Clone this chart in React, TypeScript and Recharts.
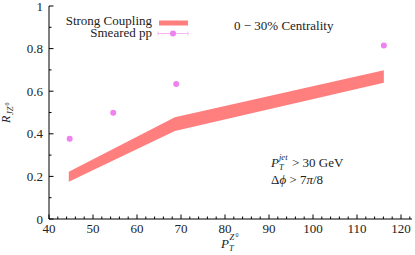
import React from 'react';
import { ComposedChart, Area, Scatter, XAxis, YAxis } from 'recharts';

// Strong Coupling band
const bandPt = [44.5, 68.6, 116.1];
const bandLow = [0.175, 0.413, 0.64];
const bandHigh = [0.222, 0.478, 0.698];

// Smeared pp points
const ppPt = [44.7, 54.6, 68.9, 116.1];
const ppVal = [0.377, 0.499, 0.634, 0.814];

// Ticks
const xTicks = [40, 42, 44, 46, 48, 50, 52, 54, 56, 58, 60, 62, 64, 66, 68, 70, 72, 74, 76, 78, 80, 82, 84, 86, 88, 90, 92, 94, 96, 98, 100, 102, 104, 106, 108, 110, 112, 114, 116, 118, 120, 122];
const xLabels = [40, 50, 60, 70, 80, 90, 100, 110, 120];
const yTicks = [0, 0.1, 0.2, 0.3, 0.4, 0.5, 0.6, 0.7, 0.8, 0.9, 1];
const yLabels = ['0', '0.2', '0.4', '0.6', '0.8', '1'];

const bandData = bandPt.map((x, i) => ({ x, range: [bandLow[i], bandHigh[i]] }));
const ppData = ppPt.map((x, i) => ({ x, y: ppVal[i] }));

const FONT = "'Liberation Serif', 'DejaVu Serif', 'Times New Roman', serif";
const TXT = '#222';
const BAND = '#ff7f7f';
const VIOLET = '#ee82ee';
const F = { fontFamily: FONT };

const isMajorX = (v: number) => xLabels.includes(v);
const yLabelOf = (v: number) => yLabels.find((l) => Math.abs(parseFloat(l) - v) < 1e-6);

const BottomTick = (p: any) => {
  const v = p.payload.value;
  const major = isMajorX(v);
  return (
    <g>
      <line x1={p.x} x2={p.x} y1={p.y} y2={p.y - (major ? 4.5 : 2.5)} stroke="#000" />
      {major && (
        <text x={p.x} y={p.y + 14} textAnchor="middle" style={F} fontSize={13} fill={TXT}>
          {v}
        </text>
      )}
    </g>
  );
};

const TopTick = (p: any) => {
  const v = p.payload.value;
  const major = isMajorX(v);
  return <line x1={p.x} x2={p.x} y1={p.y} y2={p.y + (major ? 4.5 : 2.5)} stroke="#000" />;
};

const LeftTick = (p: any) => {
  const v = p.payload.value;
  const lab = yLabelOf(v);
  return (
    <g>
      <line x1={p.x} x2={p.x + (lab ? 4.5 : 2.5)} y1={p.y} y2={p.y} stroke="#000" />
      {lab && (
        <text x={p.x - 6} y={p.y + 4.5} textAnchor="end" style={F} fontSize={13} fill={TXT}>
          {lab}
        </text>
      )}
    </g>
  );
};

const RightTick = (p: any) => {
  const v = p.payload.value;
  const lab = yLabelOf(v);
  return <line x1={p.x} x2={p.x - (lab ? 4.5 : 2.5)} y1={p.y} y2={p.y} stroke="#000" />;
};

const Dot = (p: any) => <circle cx={p.cx} cy={p.cy} r={3} fill={VIOLET} />;

export default function App() {
  return (
    <div style={{ position: 'absolute', left: 0, top: 0, width: 415, height: 255, background: '#fff', fontFamily: FONT }}>
      <ComposedChart
        width={415}
        height={255}
        data={bandData}
        margin={{ top: 6, right: 3, bottom: 0, left: 0 }}
      >
        <XAxis
          xAxisId="b"
          dataKey="x"
          type="number"
          domain={[40, 122.5]}
          ticks={xTicks}
          interval={0}
          tickSize={0}
          tickMargin={0}
          tick={BottomTick}
          height={36}
          axisLine={{ stroke: '#000' }}
          allowDataOverflow
        />
        <XAxis
          xAxisId="t"
          orientation="top"
          type="number"
          domain={[40, 122.5]}
          ticks={xTicks}
          interval={0}
          tickSize={0}
          tickMargin={0}
          tick={TopTick}
          height={0}
          axisLine={{ stroke: '#000' }}
          allowDataOverflow
        />
        <YAxis
          yAxisId="l"
          type="number"
          domain={[0, 1]}
          ticks={yTicks}
          interval={0}
          tickSize={0}
          tickMargin={0}
          tick={LeftTick}
          width={49}
          axisLine={{ stroke: '#000' }}
          allowDataOverflow
        />
        <YAxis
          yAxisId="r"
          orientation="right"
          type="number"
          domain={[0, 1]}
          ticks={yTicks}
          interval={0}
          tickSize={0}
          tickMargin={0}
          tick={RightTick}
          width={0}
          axisLine={{ stroke: '#000' }}
          allowDataOverflow
        />
        <Area
          xAxisId="b"
          yAxisId="l"
          type="linear"
          dataKey="range"
          stroke="none"
          fill={BAND}
          fillOpacity={1}
          isAnimationActive={false}
          activeDot={false}
        />
        <Scatter
          xAxisId="b"
          yAxisId="l"
          data={ppData}
          dataKey="y"
          shape={Dot}
          isAnimationActive={false}
        />
      </ComposedChart>
      <svg
        width={415}
        height={255}
        style={{ position: 'absolute', left: 0, top: 0, pointerEvents: 'none', fontFamily: FONT }}
      >
        {/* legend */}
        <text x={152} y={25} textAnchor="end" style={F} fontSize={13} fill={TXT}>
          Strong Coupling
        </text>
        <rect x={159} y={20.5} width={29} height={5} fill={BAND} />
        <text x={152} y={37} textAnchor="end" style={F} fontSize={13} fill={TXT}>
          Smeared pp
        </text>
        <line x1={158} x2={188} y1={33.5} y2={33.5} stroke="#f6b6f6" strokeWidth={1} />
        <line x1={158} x2={158} y1={31.5} y2={35.5} stroke="#f6b6f6" strokeWidth={1} />
        <line x1={188} x2={188} y1={31.5} y2={35.5} stroke="#f6b6f6" strokeWidth={1} />
        <circle cx={173} cy={33.5} r={3} fill={VIOLET} />

        {/* annotations */}
        <text x={234} y={29.5} style={F} fontSize={13} fill={TXT}>
          0 − 30% Centrality
        </text>
        <text x={271} y={167} style={F} fontSize={13} fill={TXT} fontStyle="italic">
          P
        </text>
        <text x={279} y={170} style={F} fontSize={8.5} fill={TXT} fontStyle="italic">
          T
        </text>
        <text x={279} y={160} style={F} fontSize={8.5} fill={TXT} fontStyle="italic">
          jet
        </text>
        <text x={292} y={167} style={F} fontSize={13} fill={TXT}>
          {'> 30 GeV'}
        </text>
        <text x={271} y={184} style={F} fontSize={13} fill={TXT}>
          <tspan>Δ</tspan>
          <tspan fontStyle="italic">ϕ</tspan>
          <tspan>{' > 7'}</tspan>
          <tspan fontStyle="italic">π</tspan>
          <tspan>/8</tspan>
        </text>

        {/* x axis label */}
        <text x={221} y={248} style={F} fontSize={13} fill={TXT} fontStyle="italic">
          P
        </text>
        <text x={229} y={251} style={F} fontSize={8.5} fill={TXT} fontStyle="italic">
          T
        </text>
        <text x={229.5} y={240} style={F} fontSize={8.5} fill={TXT} fontStyle="italic">
          Z
        </text>
        <text x={235.5} y={236.5} style={F} fontSize={6} fill={TXT}>
          0
        </text>

        {/* y axis label */}
        <g transform="translate(10,123) rotate(-90)">
          <text x={0} y={0} style={F} fontSize={12} fill={TXT} fontStyle="italic">
            R
          </text>
          <text x={8} y={2.5} style={F} fontSize={8.5} fill={TXT} fontStyle="italic">
            JZ
          </text>
          <text x={17.5} y={-1.5} style={F} fontSize={6} fill={TXT}>
            0
          </text>
        </g>
      </svg>
    </div>
  );
}
